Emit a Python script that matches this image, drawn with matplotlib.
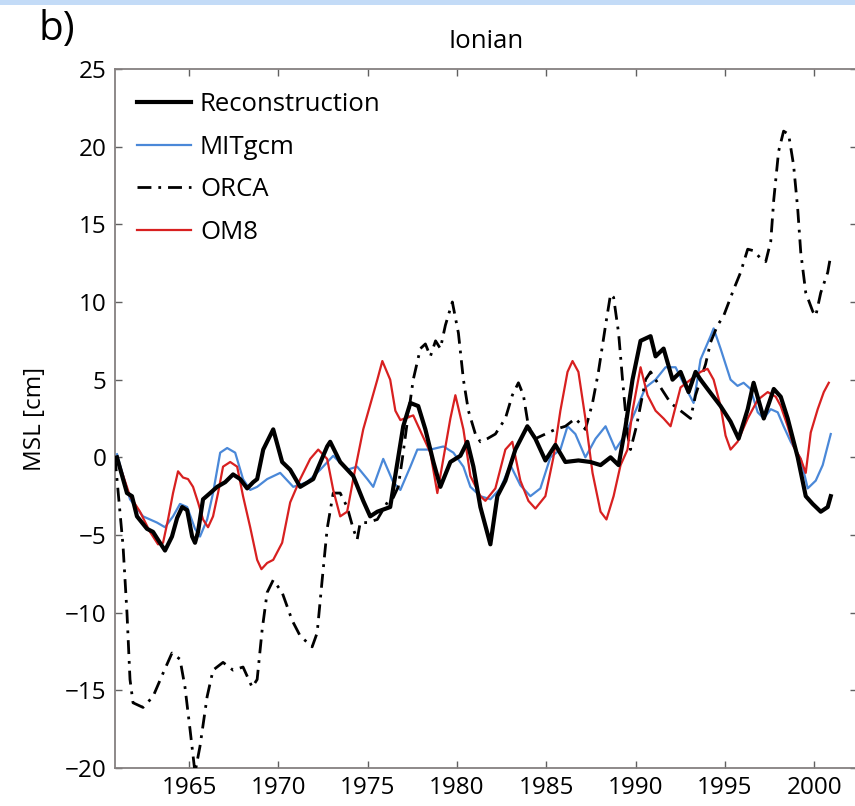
import matplotlib
matplotlib.use("Agg")
import matplotlib.pyplot as plt
from matplotlib.patches import Rectangle

plt.rcParams['font.family'] = ['Open Sans', 'DejaVu Sans']

# values (year, MSL in cm)
recon_yr = [1960.96, 1961.52, 1961.8, 1962.08, 1962.64, 1962.98, 1963.2, 1963.65, 1964.04, 1964.33,
            1964.61, 1964.89, 1965.17, 1965.33, 1965.5, 1965.78, 1966.18, 1966.57, 1967.02, 1967.46,
            1967.86, 1968.25, 1968.59, 1968.81, 1969.15, 1969.71, 1970.21, 1970.66, 1971.22, 1971.95,
            1972.73, 1972.9, 1973.46, 1974.19, 1974.75, 1975.14, 1975.54, 1976.26, 1976.71, 1976.99,
            1977.39, 1977.83, 1978.23, 1978.68, 1979.07, 1979.63, 1980.19, 1980.58, 1980.92, 1981.31,
            1981.87, 1982.26, 1982.71, 1983.27, 1983.94, 1984.39, 1984.95, 1985.51, 1986.07, 1986.8,
            1987.47, 1988.04, 1988.6, 1989.05, 1989.44, 1989.83, 1990.28, 1990.84, 1991.12, 1991.57,
            1992.07, 1992.52, 1992.97, 1993.36, 1993.64, 1994.03, 1994.76, 1995.32, 1995.77, 1996.28,
            1996.61, 1997.18, 1997.74, 1998.13, 1998.52, 1999.08, 1999.53, 1999.92, 2000.37, 2000.76,
            2000.93]
recon = [0.0, -2.3, -2.5, -3.8, -4.6, -4.8, -5.2, -6.0, -5.1, -3.9,
         -3.2, -3.4, -5.1, -5.5, -4.8, -2.7, -2.3, -1.9, -1.6, -1.1,
         -1.4, -2.0, -1.6, -1.4, 0.5, 1.8, -0.3, -0.8, -1.9, -1.4,
         0.7, 1.0, -0.3, -1.2, -2.8, -3.8, -3.5, -3.2, 0.0, 2.0,
         3.5, 3.3, 1.8, -0.3, -1.9, -0.3, 0.1, 1.0, -0.6, -3.2,
         -5.6, -2.5, -1.5, 0.5, 2.0, 1.2, -0.2, 0.8, -0.3, -0.2,
         -0.3, -0.5, 0.0, -0.5, 2.0, 5.0, 7.5, 7.8, 6.5, 7.0,
         5.0, 5.5, 4.2, 5.5, 5.0, 4.4, 3.3, 2.3, 1.2, 3.1,
         4.8, 2.5, 4.4, 3.9, 2.5, 0.0, -2.5, -3.0, -3.5, -3.2,
         -2.5]

mit_yr = [1960.96, 1961.69, 1962.42, 1963.2, 1963.65, 1964.1, 1964.49, 1964.89, 1965.33, 1965.61,
          1966.01, 1966.34, 1966.74, 1967.13, 1967.58, 1968.02, 1968.42, 1968.81, 1969.37, 1970.1,
          1970.83, 1971.61, 1972.34, 1973.07, 1973.85, 1974.41, 1974.98, 1975.31, 1975.87, 1976.43,
          1976.83, 1977.39, 1977.78, 1978.51, 1979.24, 1979.8, 1980.36, 1980.75, 1981.31, 1981.87,
          1982.43, 1982.99, 1983.55, 1984.11, 1984.67, 1985.23, 1985.79, 1986.19, 1986.63, 1987.19,
          1987.76, 1988.32, 1988.88, 1989.44, 1990.0, 1990.56, 1991.12, 1991.68, 1992.24, 1992.8,
          1993.25, 1993.64, 1994.2, 1994.37, 1994.76, 1995.32, 1995.71, 1996.05, 1996.44, 1996.84,
          1997.18, 1997.57, 1997.96, 1998.29, 1998.69, 1999.25, 1999.64, 2000.09, 2000.48, 2000.93]
mit = [0.2, -2.7, -3.8, -4.2, -4.5, -3.8, -3.0, -3.2, -4.6, -5.1,
       -4.0, -2.3, 0.3, 0.6, 0.3, -1.4, -2.1, -1.9, -1.4, -1.0,
       -1.9, -1.6, -0.8, 0.1, -0.8, -0.6, -1.4, -1.9, -0.1, -1.6,
       -2.1, -0.6, 0.5, 0.5, 0.7, 0.3, -0.6, -1.9, -2.5, -2.7,
       -2.0, -0.5, -1.8, -2.5, -2.0, 0.0, 0.5, 2.0, 1.5, 0.0,
       1.2, 2.0, 0.5, 1.5, 3.0, 4.5, 5.0, 5.8, 5.8, 4.5,
       3.5, 6.3, 7.8, 8.3, 7.0, 5.0, 4.6, 4.8, 4.4, 2.9,
       2.5, 3.1, 2.9, 2.0, 1.0, -0.1, -2.0, -1.5, -0.5, 1.5]

orca_yr = [1960.85, 1960.96, 1961.3, 1961.52, 1961.69, 1961.86, 1962.42, 1962.98, 1963.54, 1964.04,
           1964.49, 1964.77, 1965.05, 1965.33, 1965.61, 1966.01, 1966.34, 1966.9, 1967.46, 1968.02,
           1968.53, 1968.81, 1969.09, 1969.37, 1969.71, 1970.21, 1970.77, 1971.22, 1971.89, 1972.17,
           1972.45, 1972.73, 1973.07, 1973.46, 1973.85, 1974.19, 1974.41, 1974.58, 1974.98, 1975.54,
           1976.1, 1976.43, 1976.71, 1976.94, 1977.22, 1977.55, 1977.95, 1978.23, 1978.51, 1978.8,
           1979.07, 1979.35, 1979.74, 1980.08, 1980.36, 1980.64, 1981.03, 1981.31, 1981.7, 1982.15,
           1982.71, 1983.1, 1983.44, 1983.72, 1984.0, 1984.39, 1984.95, 1985.51, 1986.07, 1986.63,
           1987.19, 1987.59, 1987.92, 1988.32, 1988.6, 1988.77, 1989.05, 1989.27, 1989.55, 1989.72,
           1990.05, 1990.56, 1990.84, 1991.4, 1991.96, 1992.52, 1993.08, 1993.36, 1993.92, 1994.2,
           1994.59, 1994.93, 1995.49, 1995.88, 1996.28, 1996.61, 1997.01, 1997.29, 1997.57, 1997.74,
           1998.01, 1998.29, 1998.57, 1998.85, 1999.08, 1999.25, 1999.53, 1999.92, 2000.09, 2000.37,
           2000.76, 2000.93]
orca = [0.0, -1.4, -5.7, -10.0, -14.3, -15.8, -16.1, -15.4, -13.9, -12.6,
        -13.0, -14.8, -17.5, -20.3, -18.6, -15.4, -13.7, -13.2, -13.7, -13.5,
        -14.8, -14.3, -11.1, -8.7, -7.9, -8.7, -10.5, -11.5, -12.2, -11.3,
        -7.9, -4.6, -2.3, -2.3, -3.2, -4.6, -5.3, -4.2, -4.2, -4.0,
        -2.9, -2.6, -1.9, -0.1, 2.3, 5.0, 7.0, 7.3, 6.5, 7.5,
        7.0, 8.5, 10.0, 8.0, 5.0, 3.0, 1.5, 1.0, 1.2, 1.5,
        2.5, 4.0, 4.8, 4.0, 2.0, 1.2, 1.5, 1.8, 2.0, 2.5,
        1.8, 3.5, 5.5, 8.5, 10.5, 10.3, 8.0, 5.0, 1.5, 0.5,
        2.0, 5.0, 5.5, 4.5, 3.5, 3.0, 2.5, 4.0, 6.0, 7.4,
        8.5, 9.1, 10.8, 11.9, 13.4, 13.3, 12.8, 12.6, 13.9, 16.6,
        19.7, 21.0, 20.8, 18.8, 16.0, 13.2, 10.6, 9.4, 9.1, 10.6,
        11.9, 13.0]

om8_yr = [1960.96, 1961.69, 1962.25, 1962.81, 1963.26, 1963.54, 1963.82, 1964.1, 1964.38, 1964.66,
          1964.94, 1965.22, 1965.5, 1965.78, 1966.06, 1966.34, 1966.62, 1966.9, 1967.3, 1967.69,
          1968.02, 1968.42, 1968.81, 1969.05, 1969.37, 1969.71, 1970.21, 1970.66, 1971.22, 1971.78,
          1972.23, 1972.73, 1973.07, 1973.46, 1973.85, 1974.19, 1974.75, 1975.54, 1975.82, 1976.26,
          1976.55, 1976.83, 1977.55, 1978.51, 1978.9, 1979.63, 1979.91, 1980.36, 1980.75, 1981.31,
          1981.59, 1982.15, 1982.71, 1983.1, 1983.55, 1984.0, 1984.39, 1984.95, 1985.4, 1985.79,
          1986.19, 1986.47, 1986.8, 1987.19, 1987.59, 1988.04, 1988.37, 1988.77, 1989.16, 1989.55,
          1989.83, 1990.28, 1990.67, 1991.12, 1991.57, 1991.96, 1992.52, 1993.08, 1993.64, 1994.03,
          1994.37, 1994.76, 1995.04, 1995.32, 1995.71, 1996.28, 1996.84, 1997.4, 1997.85, 1998.13,
          1998.52, 1998.85, 1999.25, 1999.53, 1999.81, 2000.2, 2000.54, 2000.82]
om8 = [0.0, -2.5, -3.5, -4.8, -5.6, -5.5, -4.0, -2.3, -0.9, -1.3,
       -1.4, -1.9, -2.9, -4.0, -4.5, -3.8, -2.3, -0.6, -0.3, -0.6,
       -2.5, -4.5, -6.6, -7.2, -6.8, -6.6, -5.5, -2.9, -1.4, -0.1,
       0.5, -0.1, -2.1, -3.8, -3.5, -1.4, 1.8, 5.0, 6.2, 5.0,
       3.0, 2.4, 2.7, 0.3, -2.3, 2.5, 4.0, 1.8, -1.2, -2.5,
       -2.8, -2.0, 0.5, 1.0, -1.5, -2.8, -3.3, -2.5, 0.0, 3.0,
       5.5, 6.2, 5.5, 2.5, -1.0, -3.5, -4.0, -2.5, -0.5, 0.5,
       3.0, 5.8, 4.0, 3.0, 2.5, 2.0, 4.5, 5.0, 5.5, 5.7,
       5.0, 3.3, 1.4, 0.5, 1.0, 2.5, 3.7, 4.2, 3.9, 3.3,
       2.0, 0.7, -0.1, -1.0, 1.6, 3.1, 4.2, 4.8]

xticks = [1965, 1970, 1975, 1980, 1985, 1990, 1995, 2000]
yticks = [-20, -15, -10, -5, 0, 5, 10, 15, 20, 25]

fig = plt.figure(figsize=(8.55, 8.06), dpi=100)
# light blue strip along the top edge
fig.add_artist(Rectangle((0, 1 - 5 / 806), 1, 5 / 806, transform=fig.transFigure,
                         color='#c3dbf7', lw=0))

ax = fig.add_axes([115 / 855, 1 - 768 / 806, (857 - 115) / 855, (768 - 69) / 806])

ax.plot(recon_yr, recon, color='black', lw=3.0, label='Reconstruction', zorder=5)
ax.plot(mit_yr, mit, color='#4a88d8', lw=1.6, label='MITgcm', zorder=3)
ax.plot(orca_yr, orca, color='black', lw=2.0, dashes=(5, 2.5, 1, 2.5), label='ORCA', zorder=4)
ax.plot(om8_yr, om8, color='#d82020', lw=1.6, label='OM8', zorder=4)

ax.set_xlim(1960.85, 2002.4)
ax.set_ylim(-20, 25)
ax.set_xticks(xticks)
ax.set_yticks(yticks)
ax.tick_params(direction='in', top=True, right=True, length=5, width=1,
               color='#606060', labelsize=17.5, pad=6)
for s in ax.spines.values():
    s.set_color('#858080')
    s.set_linewidth(1.3)

ax.set_ylabel('MSL [cm]', fontsize=17.5)
ax.yaxis.set_label_coords(-0.092, 0.5)
ax.set_title('Ionian', fontsize=18.5, pad=15)
fig.text(38 / 855, 1 - 9 / 806, 'b)', fontsize=29, va='top', ha='left')

ax.legend(loc='upper left', bbox_to_anchor=(0.0296, 0.9665), frameon=False,
          fontsize=18.5, handlelength=2.1, handletextpad=0.35, labelspacing=0.68,
          borderaxespad=0, borderpad=0)

fig.savefig('out.png', dpi=100)
